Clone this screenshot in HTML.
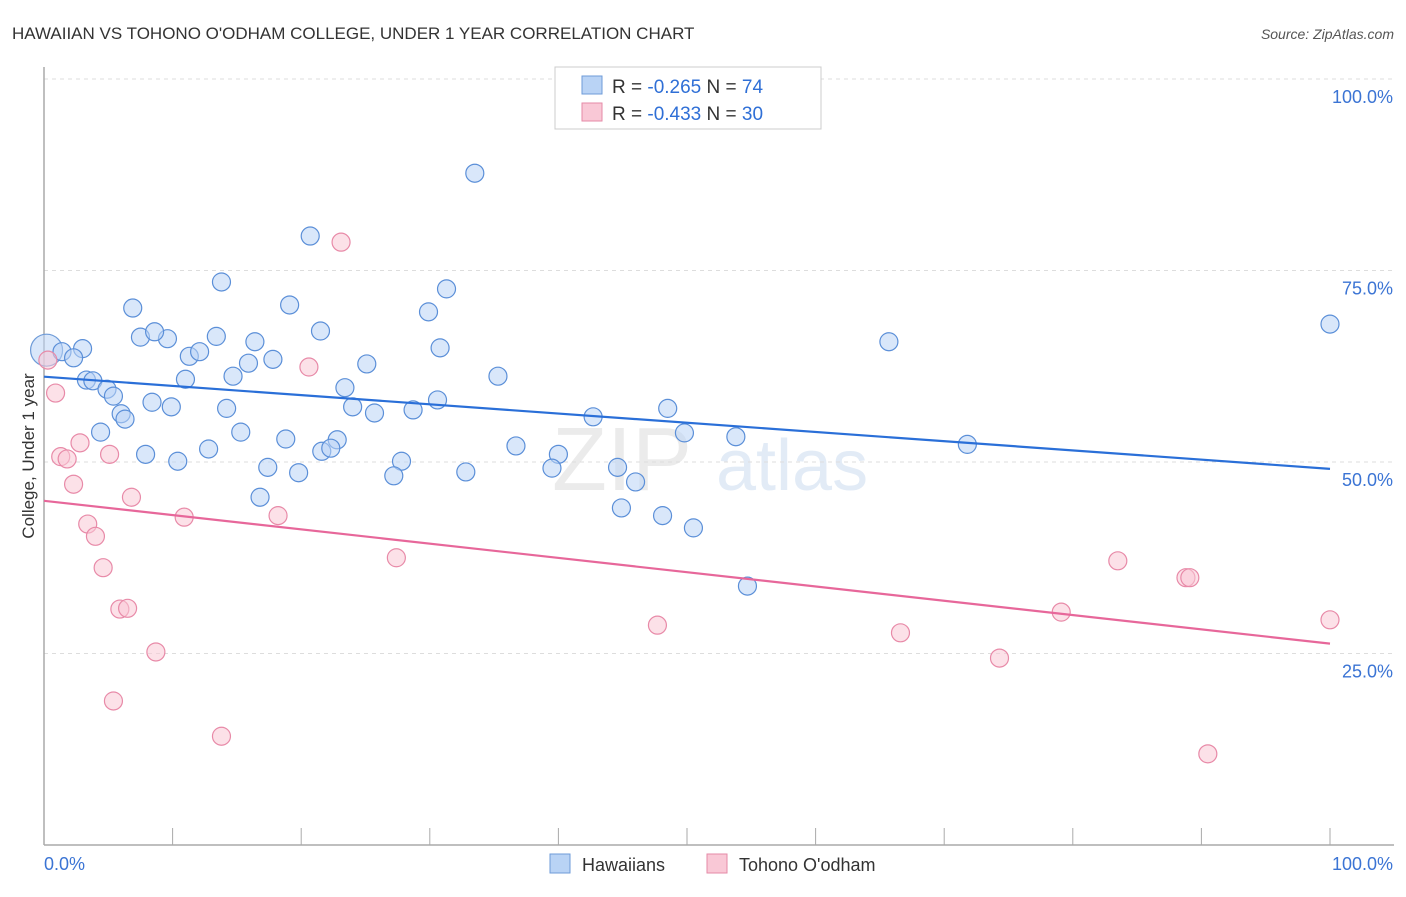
<!DOCTYPE html>
<html><head><meta charset="utf-8">
<style>
body{margin:0;background:#fff;font-family:"Liberation Sans",sans-serif;}
svg text{font-family:"Liberation Sans",sans-serif;}
</style></head>
<body>
<svg id="chart" width="1406" height="892" xmlns="http://www.w3.org/2000/svg">
<text x="12" y="39" font-size="17" fill="#333">HAWAIIAN VS TOHONO O'ODHAM COLLEGE, UNDER 1 YEAR CORRELATION CHART</text>
<text x="1394" y="39" font-size="14" fill="#555" text-anchor="end" font-style="italic">Source: ZipAtlas.com</text>
<g opacity="0.5">
<text x="552" y="490" font-size="90" fill="#d8d8d8" font-family="Liberation Serif">ZIP</text>
<text x="716" y="490" font-size="72" fill="#c6d8ef">atlas</text>
</g>
<g id="grid"></g>
<g id="axes"></g>
<text transform="translate(34,456) rotate(-90)" font-size="17" fill="#333" text-anchor="middle">College, Under 1 year</text>
<g id="marks"></g>
<g>
<rect x="555" y="67" width="266" height="62" fill="#fff" stroke="#ccc"/>
<rect x="582" y="76" width="20" height="18" fill="#b9d3f5" stroke="#6e9bd8"/>
<text x="612" y="93" font-size="19" fill="#333">R = <tspan fill="#2f6fd6">-0.265</tspan>   N = <tspan fill="#2f6fd6">74</tspan></text>
<rect x="582" y="103" width="20" height="18" fill="#f9c8d6" stroke="#e58aa7"/>
<text x="612" y="120" font-size="19" fill="#333">R = <tspan fill="#2f6fd6">-0.433</tspan>   N = <tspan fill="#2f6fd6">30</tspan></text>
</g>
<g>
<rect x="550" y="854" width="20" height="19" fill="#b9d3f5" stroke="#6e9bd8"/>
<text x="582" y="871" font-size="18" fill="#333">Hawaiians</text>
<rect x="707" y="854" width="20" height="19" fill="#f9c8d6" stroke="#e58aa7"/>
<text x="739" y="871" font-size="18" fill="#333">Tohono O'odham</text>
</g>
</svg>
<script>
const blueX=[33.5,20.7,31.3,13.8,19.1,29.9,6.9,21.5,100,65.7,9.6,7.5,13.4,8.6,16.4,11.3,12.1,30.8,3.0,1.4,2.3,17.8,15.9,25.1,14.7,11.0,35.3,3.3,3.8,4.9,5.4,23.4,8.4,9.9,30.6,14.2,24.0,25.7,28.7,42.7,48.5,6.0,6.3,4.4,15.3,49.8,53.8,71.8,18.8,22.8,36.7,7.9,12.8,21.6,22.3,40.0,10.4,27.8,17.4,44.6,39.5,19.8,32.8,27.2,46.0,16.8,44.9,48.1,50.5,54.7];
const blueY=[87.7,79.5,72.6,73.5,70.5,69.6,70.1,67.1,68.0,65.7,66.1,66.3,66.4,67.0,65.7,63.8,64.4,64.9,64.8,64.4,63.6,63.4,62.9,62.8,61.2,60.8,61.2,60.7,60.6,59.5,58.6,59.7,57.8,57.2,58.1,57.0,57.2,56.4,56.8,55.9,57.0,56.3,55.6,53.9,53.9,53.8,53.3,52.3,53.0,52.9,52.1,51.0,51.7,51.4,51.8,51.0,50.1,50.1,49.3,49.3,49.2,48.6,48.7,48.2,47.4,45.4,44.0,43.0,41.4,33.8];
const bigX=[0.2], bigY=[64.6];
const pinkX=[23.1,20.6,0.3,0.9,2.8,1.3,1.8,5.1,2.3,6.8,10.9,18.2,3.4,4.0,27.4,4.6,83.5,88.8,89.1,5.9,6.5,47.7,79.1,100,8.7,66.6,74.3,5.4,13.8,90.5];
const pinkY=[78.7,62.4,63.3,59.0,52.5,50.7,50.4,51.0,47.1,45.4,42.8,43.0,41.9,40.3,37.5,36.2,37.1,34.9,34.9,30.8,30.9,28.7,30.4,29.4,25.2,27.7,24.4,18.8,14.2,11.9];
const yTicks=[25,50,75,100];
const yTickLabels=["25.0%","50.0%","75.0%","100.0%"];
const xTickLabels=["0.0%","100.0%"];

const NS="http://www.w3.org/2000/svg";
const X0=44,X1=1330,Y0=845,Y100=79;
const sx=v=>X0+(X1-X0)*v/100;
const sy=v=>Y0-(Y0-Y100)*v/100;
function mk(tag,attrs,parent){const e=document.createElementNS(NS,tag);for(const k in attrs)e.setAttribute(k,attrs[k]);parent.appendChild(e);return e;}
const grid=document.getElementById('grid'),axes=document.getElementById('axes'),marks=document.getElementById('marks');
yTicks.forEach((t,i)=>{
  const l=mk('line',{x1:X0,x2:1394,y1:sy(t),y2:sy(t),stroke:'#ddd','stroke-dasharray':'4,4'},grid);
  
  
  const tx=mk('text',{x:1393,y:sy(t)+24,'font-size':18,fill:'#3b74d4','text-anchor':'end'},axes);
  tx.textContent=yTickLabels[i];
  
  
});
const ax=mk('line',{x1:X0,x2:1394,y1:Y0,y2:Y0,stroke:'#aaa','stroke-width':1.5},axes);


const ay=mk('line',{x1:X0,x2:X0,y1:67,y2:Y0,stroke:'#aaa','stroke-width':1.5},axes);


for(let i=1;i<=10;i++){
  const t=mk('line',{x1:sx(i*10),x2:sx(i*10),y1:828,y2:Y0,stroke:'#aaa'},axes);
  
  
}
const xl0=mk('text',{x:44,y:870,'font-size':18,fill:'#3b74d4'},axes);xl0.textContent=xTickLabels[0];


const xl1=mk('text',{x:1393,y:870,'font-size':18,fill:'#3b74d4','text-anchor':'end'},axes);xl1.textContent=xTickLabels[1];



function reg(xs,ys){const n=xs.length;let mx=0,my=0;for(let i=0;i<n;i++){mx+=xs[i];my+=ys[i];}mx/=n;my/=n;let sxy=0,sxx=0;for(let i=0;i<n;i++){sxy+=(xs[i]-mx)*(ys[i]-my);sxx+=(xs[i]-mx)**2;}const b=sxy/sxx;return [my-b*mx,b];}
function dots(xs,ys,r,fill,stroke,name){xs.forEach((x,i)=>{const c=mk('circle',{cx:sx(x),cy:sy(ys[i]),r:r,fill:fill,'fill-opacity':0.55,stroke:stroke,'stroke-width':1.2},marks);
  
  });}
dots(bigX,bigY,16,'#b9d3f5','#6e9bd8','hawaiians-point-large');
dots(blueX,blueY,9,'#b9d3f5','#5b8fd8','hawaiians-point');
dots(pinkX,pinkY,9,'#f9c8d6','#e88aa8','tohono-point');
function trend(xs,ys,color,name){const [a,b]=reg(xs,ys);const l=mk('line',{x1:sx(0),y1:sy(a),x2:sx(100),y2:sy(a+b*100),stroke:color,'stroke-width':2.2},marks);
  
  }
trend(blueX.concat(bigX),blueY.concat(bigY),'#2a6fd8','hawaiians-trend-line');
trend(pinkX,pinkY,'#e7679a','tohono-trend-line');
</script>
</body></html>
